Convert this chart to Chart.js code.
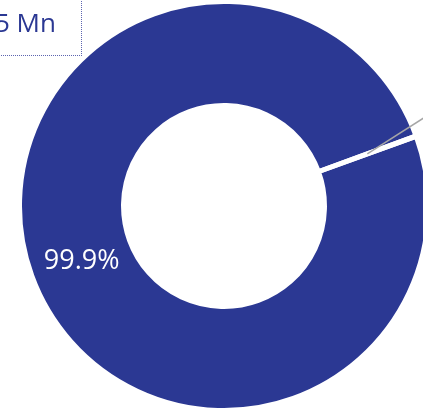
<!DOCTYPE html>
<html>
<head>
<meta charset="utf-8">
<script src="https://cdn.jsdelivr.net/npm/chart.js@4.4.1/dist/chart.umd.min.js"></script>
<style>
  html, body { margin: 0; padding: 0; background: #fff; overflow: hidden; width: 423px; height: 410px; }
  #wrap { position: relative; width: 423px; height: 410px; overflow: hidden; }
  #pie { position: absolute; left: 0; top: 0; }
  .total-box {
    position: absolute; left: -40px; top: -10px; width: 122px; height: 66px;
    border: 1px dotted #5c64b0; box-sizing: border-box;
  }
  .total-text {
    position: absolute; left: -5px; top: 4px; white-space: nowrap;
    font: 26px/36px "Open Sans", sans-serif; color: #2b3893;
  }
</style>
</head>
<body>
<div id="wrap">
  <canvas id="pie" width="448" height="412"></canvas>
  <div class="total-box"></div>
  <div class="total-text">5 Mn</div>
</div>
<script>
const labels = ['Main', 'Other']
const values = [99.9, 0.1]
const colors = ['#2b3893', '#a5a5a5']

// white percentage on the big slice, leader line out of the thin one
const sliceLabels = {
  id: 'sliceLabels',
  afterDatasetsDraw (chart) {
    const ctx = chart.ctx
    const arcs = chart.getDatasetMeta(0).data
    const total = values.reduce((a, b) => a + b, 0)

    const big = arcs[0].tooltipPosition()
    ctx.save()
    ctx.fillStyle = '#ffffff'
    ctx.font = '27px "Open Sans", sans-serif'
    ctx.textAlign = 'center'
    ctx.textBaseline = 'middle'
    ctx.fillText((values[0] / total * 100).toFixed(1) + '%', big.x + 1, big.y + 3)

    const small = arcs[1].tooltipPosition()
    const ang = -32.5 * Math.PI / 180
    ctx.strokeStyle = '#a6a6a6'
    ctx.lineWidth = 1.5
    ctx.beginPath()
    ctx.moveTo(small.x, small.y)
    ctx.lineTo(small.x + Math.cos(ang) * 120, small.y + Math.sin(ang) * 120)
    ctx.stroke()
    ctx.restore()
  }
}

new Chart(document.getElementById('pie'), {
  type: 'doughnut',
  plugins: [sliceLabels],
  data: {
    labels: labels,
    datasets: [{
      data: values,
      backgroundColor: colors,
      borderColor: '#ffffff',
      borderWidth: 4
    }]
  },
  options: {
    responsive: false,
    animation: false,
    cutout: '49.5%',
    rotation: 70.2,
    plugins: {
      legend: { display: false },
      tooltip: { enabled: false }
    }
  }
})
</script>
</body>
</html>
